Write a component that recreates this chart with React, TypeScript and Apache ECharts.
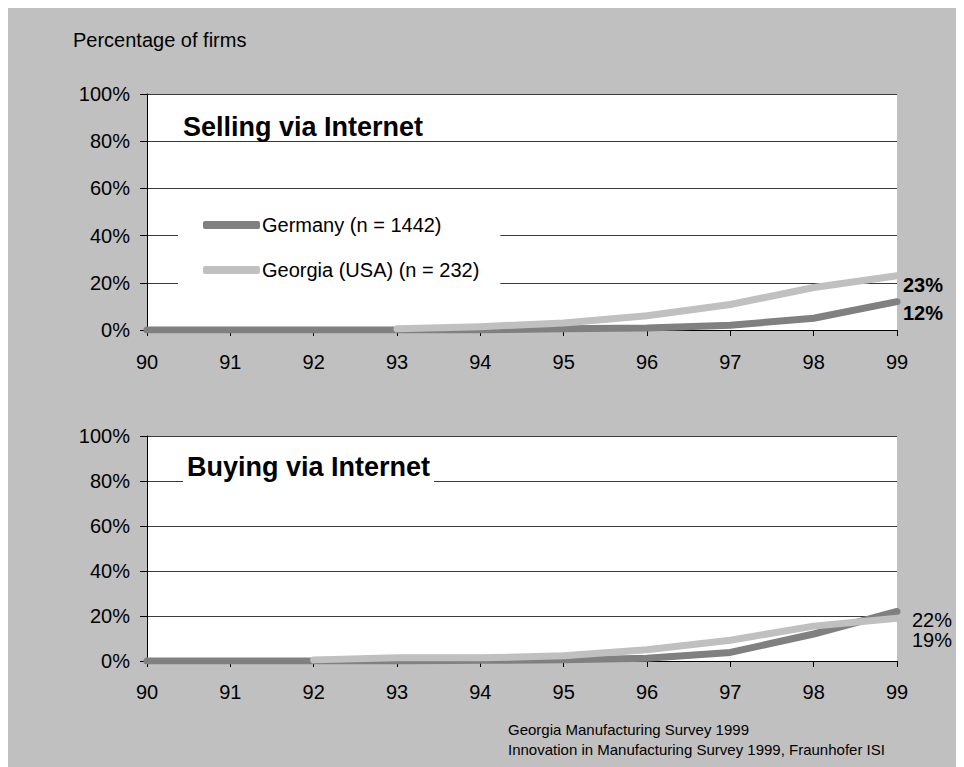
import React, { useEffect, useRef } from "react";
import * as echarts from "echarts";

const years = ["90", "91", "92", "93", "94", "95", "96", "97", "98", "99"];
const yTicks = [0, 20, 40, 60, 80, 100];
const sellGermany = [0, 0, 0, 0, 0, 0.5, 0.8, 2, 5, 12];
const sellGeorgia = [null, null, null, 0.5, 1.4, 3, 6, 10.8, 18, 23];
const buyGermany = [0, 0, 0, 0, 0.3, 0.5, 1.2, 3.8, 12, 22];
const buyGeorgia = [null, null, 0.5, 1.4, 1.4, 2.3, 5, 9.2, 15.5, 19];
const seriesNames = ["Germany (n = 1442)", "Georgia (USA) (n = 232)"];
const titles = ["Selling via Internet", "Buying via Internet"];
const yAxisTitle = "Percentage of firms";
const sourceLines = [
  "Georgia Manufacturing Survey 1999",
  "Innovation in Manufacturing Survey 1999, Fraunhofer ISI",
];

const FONT = "'Liberation Sans', Arial, sans-serif";
const GERMANY_COLOR = "#808080";
const GEORGIA_COLOR = "#c0c0c0";

export default function App() {
  const ref = useRef<HTMLDivElement>(null);
  useEffect(() => {
    document.documentElement.style.overflow = "hidden";
    document.body.style.overflow = "hidden";
    const chart = echarts.init(ref.current!, null, { renderer: "svg" });

    const xAxisCommon = (gridIndex: number, margin: number) => ({
      type: "category",
      gridIndex,
      data: years,
      boundaryGap: false,
      axisLine: { show: true, lineStyle: { color: "#000", width: 1 } },
      axisTick: { show: true, length: 6, lineStyle: { color: "#000" } },
      axisLabel: { color: "#000", fontSize: 20, fontFamily: FONT, margin },
      splitLine: { show: false },
    });
    const yAxisCommon = (gridIndex: number) => ({
      type: "value",
      gridIndex,
      min: 0,
      max: 100,
      interval: 20,
      axisLine: { show: true, lineStyle: { color: "#000", width: 1 } },
      axisTick: { show: true, length: 7, lineStyle: { color: "#000" } },
      axisLabel: {
        color: "#000",
        fontSize: 20,
        fontFamily: FONT,
        margin: 17,
        formatter: (v: number) => (yTicks.includes(v) ? v + "%" : ""),
      },
      splitLine: { show: true, lineStyle: { color: "#3a3a3a", width: 1 } },
    });

    const lineSeries = (
      name: string,
      data: (number | null)[],
      color: string,
      idx: number,
      label: any
    ) => ({
      type: "line",
      name,
      data,
      xAxisIndex: idx,
      yAxisIndex: idx,
      symbol: "none",
      connectNulls: false,
      lineStyle: { color, width: 7, cap: "round", join: "round" },
      itemStyle: { color },
      endLabel: {
        show: true,
        formatter: (p: any) => p.value + "%",
        fontFamily: FONT,
        fontSize: 20,
        color: "#000",
        ...label,
      },
      labelLayout: { hideOverlap: false },
      z: 3,
    });

    chart.setOption({
      animation: false,
      backgroundColor: "#c0c0c0",
      textStyle: { fontFamily: FONT },
      grid: [
        { left: 139, top: 86, width: 750, height: 236, show: true, backgroundColor: "#fff", borderWidth: 0 },
        { left: 139, top: 428, width: 750, height: 225, show: true, backgroundColor: "#fff", borderWidth: 0 },
      ],
      xAxis: [xAxisCommon(0, 22), xAxisCommon(1, 21)],
      yAxis: [yAxisCommon(0), yAxisCommon(1)],
      legend: {
        data: seriesNames,
        orient: "vertical",
        left: 170,
        top: 194,
        icon: "roundRect",
        itemWidth: 57,
        itemHeight: 8,
        itemGap: 25,
        backgroundColor: "#fff",
        padding: [13, 21, 13, 25],
        textStyle: { fontSize: 20, color: "#000", fontFamily: FONT, padding: [0, 0, 0, -3] },
        selectedMode: false,
      },
      series: [
        lineSeries(seriesNames[0], sellGermany, GERMANY_COLOR, 0, { fontWeight: "bold", distance: 6, offset: [0, 11] }),
        lineSeries(seriesNames[1], sellGeorgia, GEORGIA_COLOR, 0, { fontWeight: "bold", distance: 6, offset: [0, 9] }),
        lineSeries(seriesNames[0], buyGermany, GERMANY_COLOR, 1, { distance: 15, offset: [0, 8] }),
        lineSeries(seriesNames[1], buyGeorgia, GEORGIA_COLOR, 1, { distance: 15, offset: [0, 22] }),
      ],
      graphic: [
        {
          type: "text",
          left: 65,
          top: 22,
          style: { text: yAxisTitle, fontSize: 20, fontFamily: FONT, fill: "#000" },
        },
        {
          type: "text",
          x: 175,
          y: 119,
          z: 10,
          style: {
            text: titles[0],
            fontSize: 27,
            fontWeight: "bold",
            fontFamily: FONT,
            fill: "#000",
            verticalAlign: "middle",
          },
        },
        {
          type: "text",
          x: 175,
          y: 459,
          z: 10,
          style: {
            text: titles[1],
            fontSize: 27,
            fontWeight: "bold",
            fontFamily: FONT,
            fill: "#000",
            verticalAlign: "middle",
            backgroundColor: "#fff",
            padding: [2, 4, 6, 4],
          },
        },
        {
          type: "text",
          x: 500,
          y: 721,
          style: { text: sourceLines[0], fontSize: 15, fontFamily: FONT, fill: "#000", verticalAlign: "middle" },
        },
        {
          type: "text",
          x: 500,
          y: 741,
          style: { text: sourceLines[1], fontSize: 15, fontFamily: FONT, fill: "#000", verticalAlign: "middle" },
        },
      ],
    });
    return () => chart.dispose();
  }, []);
  return <div ref={ref} style={{ width: 964, height: 767 }} />;
}
